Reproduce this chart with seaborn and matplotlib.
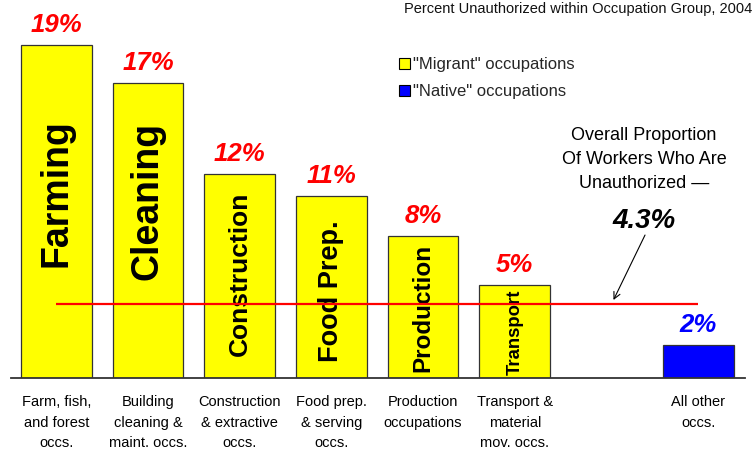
import matplotlib
matplotlib.use("Agg")
import matplotlib.pyplot as plt
import seaborn as sns
import pandas as pd

# ---- data -------------------------------------------------------------
categories = [
    "Farm, fish,\nand forest\noccs.",
    "Building\ncleaning &\nmaint. occs.",
    "Construction\n& extractive\noccs.",
    "Food prep.\n& serving\noccs.",
    "Production\noccupations",
    "Transport &\nmaterial\nmov. occs.",
    "All other\noccs.",
]
values = [19.4, 17.2, 11.9, 10.6, 8.3, 5.4, 1.9]
value_labels = ["19%", "17%", "12%", "11%", "8%", "5%", "2%"]
groups = ['"Migrant" occupations'] * 6 + ['"Native" occupations']
inner_labels = ["Farming", "Cleaning", "Construction", "Food Prep.",
                "Production", "Transport", ""]
overall_rate = 4.3
overall_label = "4.3%"
title = "Percent Unauthorized within Occupation Group, 2004"
note = "Overall Proportion\nOf Workers Who Are\nUnauthorized \u2014"
gap_label = " "

# ---- style ------------------------------------------------------------
sns.set_theme(style="white")
plt.rcParams["font.family"] = ["Liberation Sans", "DejaVu Sans"]

W, H = 754, 451
fig = plt.figure(figsize=(W / 100, H / 100), dpi=100)
ax = fig.add_axes([10.7 / W, (H - 378) / H, (745 - 10.7) / W, 378 / H])

df = pd.DataFrame({"cat": categories, "val": values, "grp": groups})
order = categories[:6] + [gap_label] + categories[6:]
palette = {groups[0]: "#FFFF00", groups[-1]: "#0000FF"}

sns.barplot(data=df, x="cat", y="val", hue="grp", order=order,
            hue_order=[groups[0], groups[-1]], palette=palette,
            dodge=False, width=0.77, edgecolor="#333333", linewidth=0.9,
            saturation=1, ax=ax)

ax.set_ylim(0, 22.05)
ax.set_xlim(-0.496, 7.51)
ax.set_xlabel("")
ax.set_ylabel("")
ax.set_yticks([])
for s in ["top", "right", "left"]:
    ax.spines[s].set_visible(False)
ax.spines["bottom"].set_color("#333333")
ax.spines["bottom"].set_linewidth(1.3)
ax.tick_params(axis="x", length=0, pad=12.5, labelsize=10.5, colors="black")
for t in ax.get_xticklabels():
    t.set_linespacing(1.58)

# bars sorted by position
bars = sorted([p for p in ax.patches if p.get_height() > 0],
              key=lambda p: p.get_x())

inner_sizes = [27, 27, 19, 19.5, 17.5, 13.3, 10]
inner_y = [10.8, 10.3, 6.07, 5.05, 4.11, 2.68, 0]
for i, (b, lab, col) in enumerate(zip(bars, value_labels, groups)):
    cx = b.get_x() + b.get_width() / 2
    color = "#FF0000" if col == groups[0] else "#0000FF"
    ax.annotate(lab, (cx, b.get_height()), xytext=(0, 9.4),
                textcoords="offset points", ha="center", va="baseline",
                fontsize=18.5, fontweight="bold", fontstyle="italic",
                color=color)
    if inner_labels[i]:
        ax.text(cx, inner_y[i], inner_labels[i], rotation=90, ha="center",
                va="center", fontsize=inner_sizes[i], fontweight="bold",
                color="black")

# overall line
x0 = bars[0].get_x() + bars[0].get_width() / 2
x1 = bars[-1].get_x() + bars[-1].get_width() / 2
ax.hlines(overall_rate, x0, x1, color="#FF0000", lw=1.6, zorder=5)

ax.text(6.41, 12.75, note, ha="center", va="center", fontsize=13,
        linespacing=1.56, color="black")
ax.text(6.41, 9.16, overall_label, ha="center", va="center", fontsize=20,
        fontweight="bold", fontstyle="italic", color="black")
ax.annotate("", xy=(6.076, 4.55), xytext=(6.42, 8.34),
            arrowprops=dict(arrowstyle="->", color="black", lw=0.8,
                            shrinkA=0, shrinkB=0))

# legend
handles, labels = ax.get_legend_handles_labels()
leg = ax.legend(handles, labels, loc="upper left", frameon=False,
                bbox_to_anchor=(399 / W, 1 - 57 / H),
                bbox_transform=fig.transFigure, fontsize=12,
                handlelength=0.65, handleheight=0.65, handletextpad=0.2,
                labelspacing=0.72, borderpad=0, borderaxespad=0)
for h in leg.legend_handles:
    h.set_edgecolor("black")
    h.set_linewidth(0.8)

fig.text(752 / W, 1 - 9 / H, title, ha="right", va="center", fontsize=10.5,
         color="#111111")

fig.savefig("out.png", dpi=100)
